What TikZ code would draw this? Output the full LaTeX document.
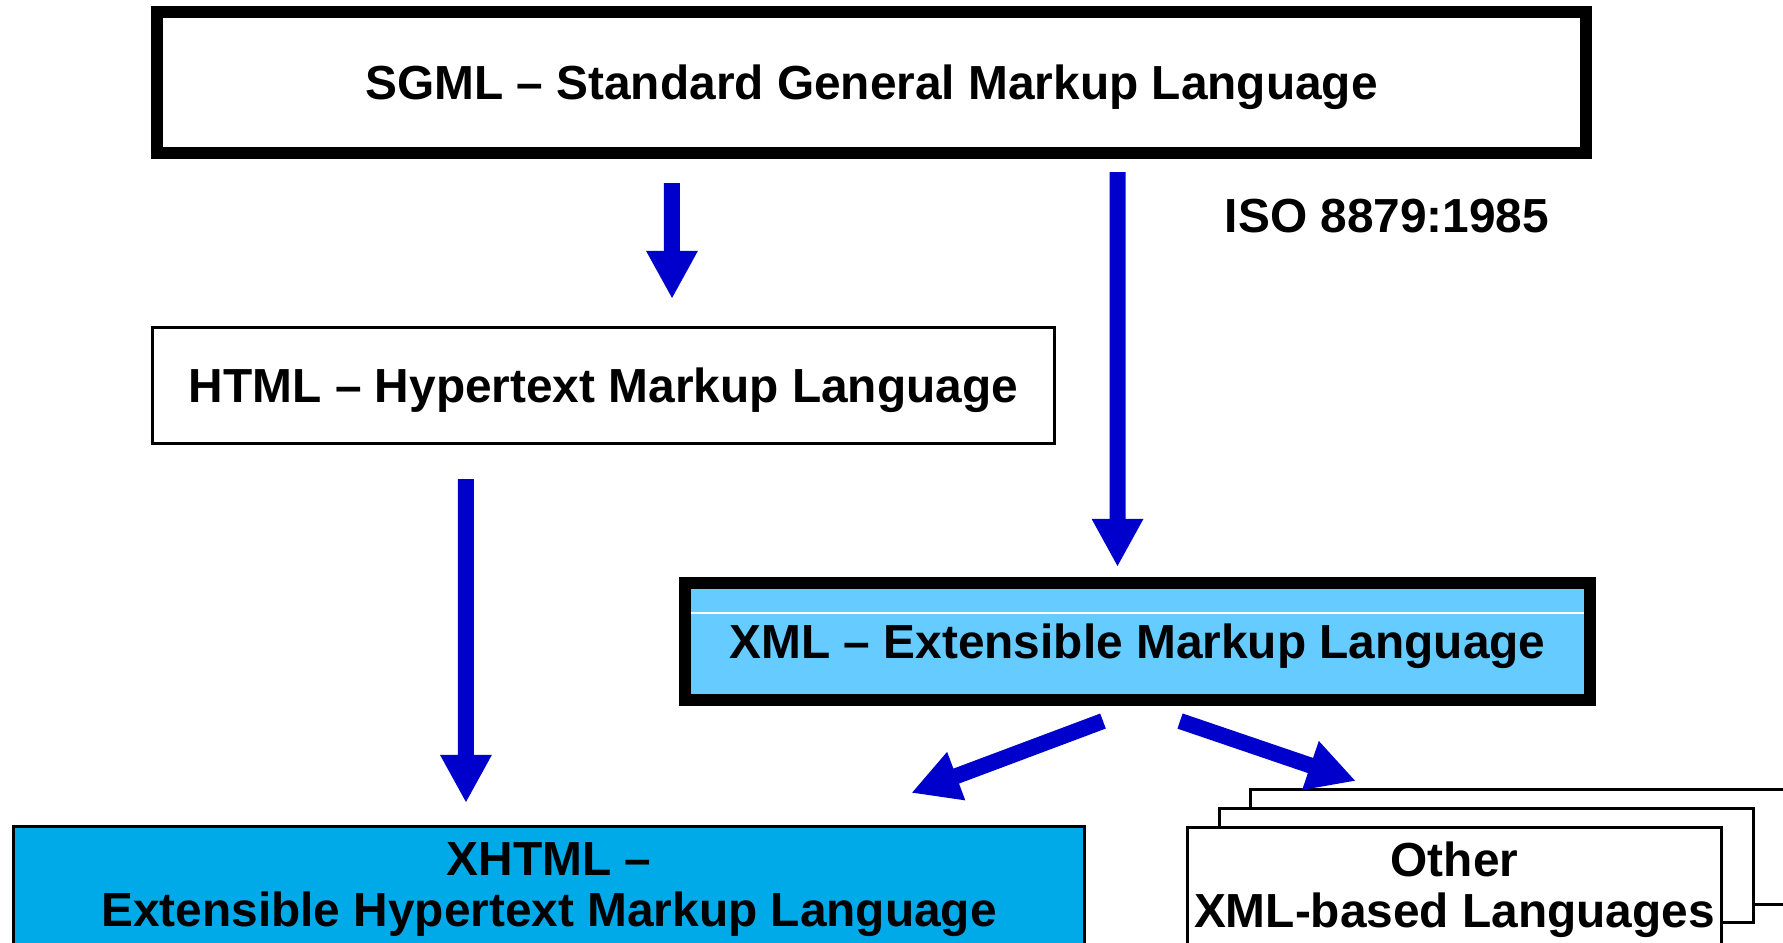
\documentclass[tikz,border=0pt]{standalone}
\usepackage{fontspec}
\setmainfont{Liberation Sans}
\usetikzlibrary{arrows.meta, positioning}
\definecolor{xmlblue}{RGB}{102,204,255}
\definecolor{xhtmlblue}{RGB}{0,170,232}
\definecolor{arrowblue}{RGB}{0,0,204}

\begin{document}
\begin{tikzpicture}[
  x=0.01cm, y=-0.01cm,
  lbl/.style={font=\fontsize{13.6pt}{14.6pt}\selectfont\bfseries, align=center},
  oneline/.style={text height=0.43cm, text depth=0.10cm},
  thickbox/.style={lbl, rectangle, draw, line width=0.12cm, inner sep=0pt},
  thinbox/.style={lbl, rectangle, draw, line width=0.03cm, inner sep=0pt},
  arrow/.style={-{Triangle[width=0.48cm, length=0.48cm]}, line width=0.16cm, arrowblue}
]
  \clip (0,0) rectangle (1783,942);

  \node[thickbox, oneline, fill=white, minimum width=14.29cm, minimum height=1.41cm] (sgml) at (871.5,82.5) {SGML – Standard General Markup Language};
  \node[lbl] (iso) at (1387,216) {ISO 8879:1985};
  \node[thinbox, oneline, fill=white, minimum width=9.02cm, minimum height=1.16cm] (html) at (603.5,385.5) {HTML – Hypertext Markup Language};
  \node[thickbox, oneline, fill=xmlblue, minimum width=9.05cm, minimum height=1.17cm] (xml) at (1137.5,641.5) {XML – Extensible Markup Language};
  \draw[white, line width=0.4pt] ([xshift=0.12cm, yshift=0.285cm]xml.west) -- ([xshift=-0.12cm, yshift=0.285cm]xml.east);
  \node[thinbox, fill=xhtmlblue, minimum width=10.71cm, minimum height=1.26cm] (xhtml) at (549,889.5) {XHTML –\\Extensible Hypertext Markup Language};

  % stacked boxes, back to front
  \node[thinbox, fill=white, minimum width=5.33cm, minimum height=1.15cm] (other3) at (1517.5,847) {};
  \node[thinbox, fill=white, minimum width=5.33cm, minimum height=1.14cm] (other2) at (1486.5,865.5) {};
  \node[thinbox, fill=white, minimum width=5.34cm, minimum height=1.24cm] (other1) at (1454.5,889.5) {Other\\XML-based Languages};

  \draw[arrow] ([xshift=-1.995cm, yshift=-0.24cm]sgml.south) -- ([xshift=0.685cm, yshift=0.27cm]html.north);
  \draw[arrow] ([xshift=2.46cm, yshift=-0.13cm]sgml.south) -- ([xshift=-0.2cm, yshift=0.1cm]xml.north);
  \draw[arrow] ([xshift=-1.375cm, yshift=-0.34cm]html.south) -- ([xshift=-0.83cm, yshift=0.22cm]xhtml.north);
  \draw[arrow] ([xshift=-0.345cm, yshift=-0.15cm]xml.south) -- ([xshift=3.62cm, yshift=0.32cm]xhtml.north);
  \draw[arrow] ([xshift=0.425cm, yshift=-0.15cm]xml.south) -- ([xshift=-1.615cm, yshift=0.07cm]other3.north);
\end{tikzpicture}
\end{document}
